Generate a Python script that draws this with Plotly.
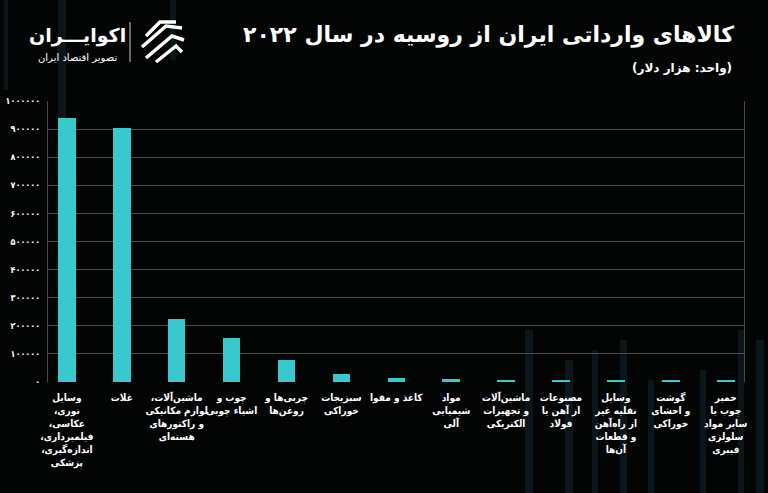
import plotly.graph_objects as go

RLM = "\u200f"
categories = [
    "وسایل<br>نوری،" + RLM + "<br>عکاسی،" + RLM + "<br>فیلمبرداری،" + RLM + "<br>اندازه‌گیری،" + RLM + "<br>پزشکی",
    "غلات",
    "ماشین‌آلات،" + RLM + "<br>لوازم مکانیکی<br>و راکتورهای<br>هسته‌ای",
    "چوب و<br>اشیاء چوبی",
    "چربی‌ها و<br>روغن‌ها",
    "سبزیجات<br>خوراکی",
    "کاغذ و مقوا",
    "مواد<br>شیمیایی<br>آلی",
    "ماشین‌آلات<br>و تجهیزات<br>الکتریکی",
    "مصنوعات<br>از آهن یا<br>فولاد",
    "وسایل<br>نقلیه غیر<br>از راه‌آهن<br>و قطعات<br>آن‌ها",
    "گوشت<br>و احشای<br>خوراکی",
    "خمیر<br>چوب یا<br>سایر مواد<br>سلولزی<br>فیبری",
]
values = [940000, 905000, 224000, 156000, 79000, 29500, 15000, 12000, 8000, 8000, 5000, 5000, 4500]
y_ticks = [0, 100000, 200000, 300000, 400000, 500000, 600000, 700000, 800000, 900000, 1000000]

TITLE = "کالاهای وارداتی ایران از روسیه در سال ۲۰۲۲"
SUBTITLE = "(واحد: هزار دلار)"
LOGO = "اکوایـــران"
LOGO_SUB = "تصویر اقتصاد ایران"

FA = str.maketrans("0123456789", "۰۱۲۳۴۵۶۷۸۹")
def fa(n):
    return str(n).translate(FA)

W, H = 768, 493
L, R, T, B = 48, 24, 101, 111
PW, PH = W - L - R, H - T - B
def px(x):
    return (x - L) / PW
def py(y):
    return (H - B - y) / PH

FONT = "DejaVu Sans"
COND = "DejaVu Sans Condensed, DejaVu Sans"
BAR = "#38C9CF"

fig = go.Figure()
xs = list(range(len(categories)))
fig.add_trace(go.Bar(x=xs, y=values, marker=dict(color=BAR, line=dict(width=0)),
                     width=0.32, hoverinfo="skip"))

shapes = []
# faint decorative background stripes
stripes = [(58, 0, 66, 140), (170, 0, 176, 60), (4, 0, 8, 90),
           (525, 330, 533, 493), (565, 360, 573, 493), (592, 350, 598, 493),
           (620, 340, 627, 493), (648, 380, 654, 493), (700, 370, 706, 493),
           (738, 330, 744, 493), (756, 340, 764, 493)]
for x0, y0, x1, y1 in stripes:
    shapes.append(dict(type="rect", xref="paper", yref="paper", x0=px(x0), x1=px(x1),
                       y0=py(y1), y1=py(y0), fillcolor="rgba(25,55,65,0.35)",
                       line=dict(width=0), layer="below"))
# logo separator
shapes.append(dict(type="line", xref="paper", yref="paper", x0=px(130), x1=px(130),
                   y0=py(62), y1=py(22), line=dict(color="#cccccc", width=1)))
# logo icon: stylised stripes
def path(points):
    return "M " + " L ".join(f"{px(a):.5f},{py(b):.5f}" for a, b in points)
icon = [
    [(146, 36), (160, 22), (176, 22)],
    [(142, 47), (166, 26), (182, 28)],
    [(146, 58), (172, 36), (184, 40)],
    [(156, 62), (176, 46), (182, 52)],
]
for pts in icon:
    shapes.append(dict(type="path", xref="paper", yref="paper", path=path(pts),
                       line=dict(color="white", width=3.5)))

annotations = [
    dict(text=TITLE, xref="paper", yref="paper", x=px(736), y=py(35), xanchor="right",
         yanchor="middle", showarrow=False, font=dict(family=FONT, size=22, color="white", weight="bold")),
    dict(text=SUBTITLE, xref="paper", yref="paper", x=px(734), y=py(69), xanchor="right",
         yanchor="middle", showarrow=False, font=dict(family=FONT, size=12, color="white", weight="bold")),
    dict(text=LOGO, xref="paper", yref="paper", x=px(77), y=py(35), xanchor="center",
         yanchor="middle", showarrow=False, font=dict(family=FONT, size=19, color="white", weight="bold")),
    dict(text=LOGO_SUB, xref="paper", yref="paper", x=px(77), y=py(57), xanchor="center",
         yanchor="middle", showarrow=False, font=dict(family=FONT, size=10, color="white")),
]

fig.update_layout(
    width=W, height=H,
    margin=dict(l=L, r=R, t=T, b=B, pad=0),
    paper_bgcolor="#030505", plot_bgcolor="rgba(0,0,0,0)",
    showlegend=False, bargap=0,
    shapes=shapes, annotations=annotations,
    xaxis=dict(tickmode="array", tickvals=xs, ticktext=categories,
               range=[-0.344, 12.333], showgrid=False, zeroline=False,
               showline=False, ticks="", tickangle=0, fixedrange=True, automargin=False,
               ticklabelstandoff=8,
               tickfont=dict(family=COND, size=10, color="white", weight="bold")),
    yaxis=dict(tickmode="array", tickvals=y_ticks, ticktext=[fa(v) for v in y_ticks],
               range=[0, 1000000], showgrid=True, gridcolor="#4a4a4a", gridwidth=1,
               zeroline=False, showline=True, linecolor="#4a4a4a", linewidth=1, mirror=True,
               ticks="", ticklabelstandoff=5, fixedrange=True, automargin=False,
               tickfont=dict(family=COND, size=9, color="white", weight="bold")),
)

fig.write_html("out.html")
